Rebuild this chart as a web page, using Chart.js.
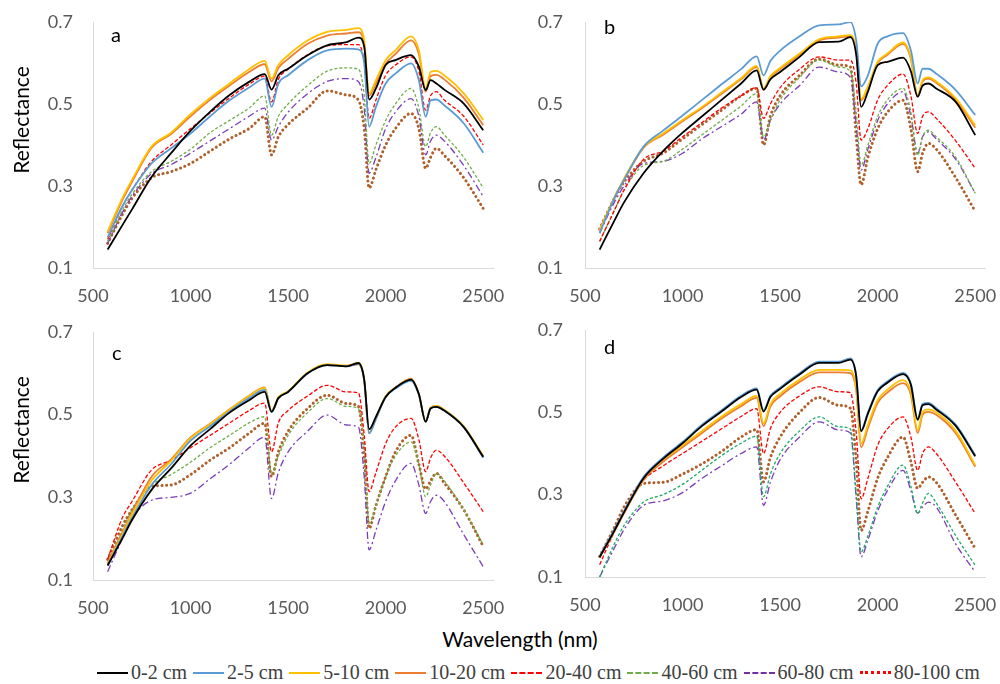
<!DOCTYPE html>
<html>
<head>
<meta charset="utf-8">
<script src="https://cdn.jsdelivr.net/npm/chart.js@4.4.1/dist/chart.umd.min.js"></script>
<style>
  body { margin: 0; width: 1000px; height: 684px; background: #fff; position: relative; overflow: hidden; font-family: Lato, sans-serif; }
  .panel { position: absolute; }
  .letter { position: absolute; font-size: 20px; color: #000; line-height: 1; }
  .ytitle { position: absolute; font-size: 21px; color: #000; white-space: nowrap; transform: translate(-50%, -50%) rotate(-90deg); }
  #xtitle { position: absolute; left: 520px; top: 638px; transform: translate(-50%, -50%); font-size: 21px; color: #000; white-space: nowrap; }
  #legend { position: absolute; left: 97px; top: 661px; display: flex; align-items: center; font-family: "Liberation Serif", serif; font-size: 20px; color: #404040; white-space: nowrap; }
  .item { display: flex; align-items: center; margin-right: 6px; }
  .swatch { width: 31px; height: 0; margin-right: 3px; }
</style>
</head>
<body>

<div class="panel" style="left:0;top:0;width:520px;height:310px"><canvas id="chartA" width="520" height="310"></canvas></div>
<div class="panel" style="left:500px;top:0;width:500px;height:310px"><canvas id="chartB" width="500" height="310"></canvas></div>
<div class="panel" style="left:0;top:310px;width:520px;height:310px"><canvas id="chartC" width="520" height="310"></canvas></div>
<div class="panel" style="left:500px;top:310px;width:500px;height:310px"><canvas id="chartD" width="500" height="310"></canvas></div>

<div class="letter" style="left:111px;top:24px">a</div>
<div class="letter" style="left:604px;top:16px">b</div>
<div class="letter" style="left:112px;top:342px">c</div>
<div class="letter" style="left:604px;top:336px">d</div>

<div class="ytitle" style="left:20px;top:120px">Reflectance</div>
<div class="ytitle" style="left:20px;top:430px">Reflectance</div>
<div id="xtitle">Wavelength (nm)</div>
<div id="legend"></div>

<script>
// wavelength (nm) of the sampled points
const wavelengths = [575, 650, 700, 800, 900, 1000, 1100, 1200, 1300, 1380, 1415, 1450, 1500, 1600, 1700, 1800, 1860, 1890, 1915, 1950, 2000, 2050, 2130, 2170, 2205, 2230, 2260, 2300, 2400, 2500];

const xTicks = [500, 1000, 1500, 2000, 2500];
const xAxisMax = 2550;
const yTicks = [0.1, 0.3, 0.5, 0.7];

const seriesLabels = ['0-2 cm', '2-5 cm', '5-10 cm', '10-20 cm', '20-40 cm', '40-60 cm', '60-80 cm', '80-100 cm'];

// panel a
const a_0_2 = [0.145,0.204,0.243,0.322,0.380,0.435,0.481,0.522,0.554,0.573,0.535,0.570,0.586,0.619,0.643,0.651,0.662,0.640,0.511,0.538,0.595,0.607,0.619,0.591,0.534,0.558,0.550,0.535,0.501,0.436];
const a_2_5 = [0.175,0.250,0.290,0.355,0.392,0.428,0.470,0.509,0.540,0.562,0.493,0.550,0.570,0.607,0.631,0.635,0.633,0.600,0.445,0.493,0.550,0.574,0.599,0.558,0.469,0.509,0.511,0.497,0.453,0.381];
const a_5_10 = [0.189,0.270,0.315,0.396,0.430,0.475,0.515,0.550,0.585,0.605,0.562,0.595,0.619,0.655,0.676,0.681,0.685,0.655,0.526,0.558,0.607,0.631,0.665,0.631,0.538,0.578,0.581,0.570,0.526,0.461];
const a_10_20 = [0.185,0.265,0.310,0.393,0.427,0.470,0.510,0.545,0.578,0.597,0.555,0.588,0.610,0.647,0.667,0.672,0.675,0.645,0.520,0.550,0.598,0.622,0.655,0.622,0.530,0.568,0.571,0.560,0.515,0.448];
const a_20_40 = [0.170,0.250,0.290,0.360,0.400,0.440,0.478,0.515,0.548,0.568,0.505,0.560,0.585,0.620,0.642,0.645,0.645,0.600,0.465,0.510,0.570,0.595,0.615,0.580,0.485,0.520,0.530,0.510,0.470,0.400];
const a_40_60 = [0.165,0.240,0.280,0.335,0.360,0.390,0.430,0.460,0.490,0.520,0.424,0.470,0.500,0.545,0.580,0.588,0.585,0.520,0.355,0.400,0.460,0.500,0.538,0.490,0.396,0.430,0.445,0.425,0.370,0.295];
const a_60_80 = [0.160,0.235,0.275,0.330,0.352,0.380,0.410,0.440,0.470,0.490,0.412,0.445,0.480,0.525,0.555,0.562,0.555,0.490,0.331,0.370,0.440,0.480,0.513,0.470,0.376,0.410,0.424,0.410,0.350,0.274];
const a_80_100 = [0.160,0.230,0.270,0.320,0.335,0.355,0.385,0.415,0.440,0.469,0.376,0.420,0.450,0.490,0.532,0.522,0.510,0.440,0.295,0.340,0.400,0.440,0.477,0.440,0.343,0.370,0.392,0.375,0.320,0.245];

// panel b
const b_0_2 = [0.145,0.215,0.260,0.331,0.385,0.430,0.470,0.510,0.550,0.582,0.535,0.560,0.578,0.615,0.651,0.652,0.663,0.620,0.493,0.530,0.595,0.603,0.613,0.580,0.518,0.545,0.550,0.538,0.505,0.424];
const b_2_5 = [0.185,0.270,0.315,0.396,0.435,0.472,0.510,0.548,0.585,0.616,0.570,0.605,0.630,0.665,0.692,0.694,0.700,0.655,0.543,0.570,0.647,0.665,0.673,0.631,0.550,0.586,0.586,0.574,0.534,0.473];
const b_5_10 = [0.192,0.272,0.318,0.395,0.428,0.461,0.493,0.528,0.563,0.593,0.538,0.568,0.588,0.623,0.658,0.665,0.668,0.633,0.512,0.543,0.603,0.623,0.650,0.613,0.521,0.558,0.565,0.555,0.514,0.448];
const b_10_20 = [0.190,0.270,0.315,0.393,0.425,0.458,0.490,0.525,0.560,0.590,0.535,0.565,0.585,0.620,0.655,0.662,0.665,0.630,0.509,0.540,0.600,0.620,0.647,0.610,0.518,0.555,0.562,0.552,0.510,0.442];
const b_20_40 = [0.165,0.240,0.290,0.365,0.385,0.420,0.455,0.490,0.520,0.540,0.465,0.500,0.540,0.585,0.615,0.607,0.607,0.550,0.412,0.440,0.510,0.545,0.573,0.520,0.428,0.470,0.481,0.465,0.410,0.343];
const b_40_60 = [0.165,0.240,0.290,0.350,0.360,0.390,0.425,0.460,0.495,0.525,0.420,0.460,0.510,0.565,0.607,0.590,0.580,0.480,0.351,0.400,0.470,0.510,0.538,0.480,0.375,0.420,0.436,0.420,0.370,0.282];
const b_60_80 = [0.185,0.260,0.300,0.355,0.360,0.380,0.415,0.445,0.475,0.505,0.412,0.460,0.500,0.545,0.590,0.578,0.565,0.450,0.339,0.390,0.460,0.500,0.530,0.470,0.380,0.420,0.432,0.415,0.365,0.282];
const b_80_100 = [0.195,0.270,0.310,0.360,0.380,0.415,0.450,0.485,0.520,0.538,0.400,0.470,0.520,0.570,0.610,0.595,0.590,0.420,0.303,0.370,0.440,0.480,0.509,0.440,0.335,0.380,0.404,0.390,0.320,0.238];

// panel c
const c_0_2 = [0.135,0.200,0.245,0.318,0.370,0.425,0.465,0.505,0.535,0.555,0.507,0.540,0.555,0.600,0.620,0.617,0.625,0.585,0.465,0.495,0.543,0.565,0.585,0.550,0.483,0.515,0.519,0.510,0.470,0.398];
const c_2_5 = [0.135,0.205,0.250,0.330,0.380,0.437,0.472,0.508,0.540,0.560,0.507,0.540,0.555,0.600,0.620,0.617,0.623,0.583,0.455,0.490,0.543,0.563,0.582,0.548,0.483,0.515,0.519,0.510,0.470,0.396];
const c_5_10 = [0.138,0.210,0.258,0.340,0.388,0.443,0.477,0.512,0.545,0.565,0.510,0.542,0.557,0.602,0.622,0.619,0.625,0.585,0.457,0.492,0.545,0.565,0.585,0.550,0.485,0.517,0.521,0.512,0.472,0.400];
const c_10_20 = [0.140,0.215,0.262,0.350,0.392,0.445,0.478,0.513,0.546,0.566,0.508,0.540,0.556,0.601,0.621,0.618,0.622,0.582,0.455,0.490,0.544,0.565,0.587,0.550,0.483,0.517,0.521,0.511,0.471,0.398];
const c_20_40 = [0.150,0.250,0.290,0.366,0.390,0.420,0.450,0.480,0.510,0.528,0.410,0.480,0.510,0.545,0.571,0.555,0.553,0.450,0.314,0.360,0.430,0.470,0.491,0.440,0.362,0.395,0.414,0.400,0.335,0.265];
const c_40_60 = [0.140,0.220,0.270,0.330,0.355,0.385,0.420,0.450,0.480,0.495,0.358,0.400,0.450,0.505,0.539,0.520,0.515,0.420,0.237,0.280,0.350,0.400,0.434,0.380,0.301,0.330,0.358,0.340,0.270,0.185];
const c_60_80 = [0.120,0.200,0.250,0.293,0.300,0.310,0.345,0.380,0.420,0.446,0.297,0.360,0.410,0.460,0.499,0.475,0.470,0.350,0.173,0.220,0.290,0.340,0.382,0.330,0.261,0.290,0.305,0.290,0.210,0.132];
const c_80_100 = [0.150,0.230,0.270,0.326,0.330,0.355,0.390,0.420,0.455,0.479,0.350,0.410,0.460,0.515,0.547,0.527,0.520,0.400,0.225,0.280,0.350,0.410,0.450,0.380,0.320,0.340,0.358,0.335,0.270,0.181];

// panel d
const d_0_2 = [0.148,0.212,0.257,0.340,0.387,0.425,0.467,0.502,0.537,0.555,0.502,0.537,0.557,0.592,0.620,0.620,0.628,0.587,0.454,0.497,0.551,0.572,0.593,0.567,0.482,0.517,0.520,0.507,0.467,0.393];
const d_2_5 = [0.150,0.215,0.260,0.343,0.390,0.428,0.470,0.505,0.540,0.558,0.505,0.540,0.560,0.595,0.623,0.623,0.631,0.590,0.457,0.500,0.554,0.575,0.596,0.570,0.485,0.520,0.523,0.510,0.470,0.396];
const d_5_10 = [0.150,0.213,0.258,0.340,0.385,0.420,0.455,0.490,0.520,0.540,0.473,0.520,0.545,0.580,0.603,0.603,0.602,0.560,0.424,0.470,0.530,0.555,0.578,0.550,0.457,0.500,0.507,0.500,0.455,0.372];
const d_10_20 = [0.148,0.210,0.255,0.336,0.380,0.415,0.450,0.485,0.515,0.535,0.466,0.514,0.539,0.574,0.597,0.597,0.595,0.553,0.415,0.462,0.523,0.548,0.571,0.543,0.450,0.494,0.501,0.494,0.449,0.368];
const d_20_40 = [0.130,0.210,0.260,0.335,0.370,0.400,0.430,0.460,0.490,0.509,0.400,0.460,0.500,0.540,0.562,0.550,0.548,0.450,0.290,0.340,0.420,0.460,0.489,0.440,0.359,0.400,0.416,0.400,0.330,0.254];
const d_40_60 = [0.100,0.180,0.225,0.282,0.300,0.325,0.360,0.395,0.425,0.442,0.295,0.350,0.400,0.455,0.489,0.465,0.460,0.300,0.161,0.200,0.270,0.320,0.372,0.320,0.254,0.280,0.303,0.280,0.200,0.128];
const d_60_80 = [0.100,0.170,0.215,0.274,0.285,0.305,0.340,0.370,0.400,0.416,0.274,0.330,0.385,0.440,0.477,0.457,0.450,0.290,0.149,0.190,0.260,0.310,0.359,0.310,0.255,0.270,0.282,0.270,0.180,0.112];
const d_80_100 = [0.150,0.220,0.270,0.327,0.330,0.350,0.375,0.405,0.440,0.458,0.331,0.390,0.440,0.500,0.536,0.517,0.510,0.380,0.213,0.260,0.340,0.390,0.440,0.380,0.315,0.330,0.343,0.330,0.250,0.169];

// line styles, one per depth
const lineColors = ['#000000', '#5B9BD5', '#FFC000', '#ED7D31', '#FF0000', '#70AD47', '#7A3DB8', '#B0602A'];
const lineDashes = [[], [], [], [], [4, 2], [3, 2], [7, 3, 2, 3], [0.1, 4.5]];
const lineWidths = [1.8, 1.8, 1.8, 1.8, 1.3, 1.3, 1.3, 3];
const legendColors = ['#000000', '#5B9BD5', '#FFC000', '#ED7D31', '#FF0000', '#70AD47', '#7030A0', '#FF0000'];
const legendStyles = ['solid', 'solid', 'solid', 'solid', 'dashed', 'dashed', 'dashed', 'dotted'];

const tickFont = { family: 'Lato', size: 18 };

const makePanel = (canvasId, seriesList, box) => {
  const datasets = seriesList.map((vals, i) => ({
    label: seriesLabels[i],
    data: wavelengths.map((w, j) => ({ x: w, y: vals[j] })),
    borderColor: (i === 5 && box.green) ? box.green : lineColors[i],
    borderWidth: lineWidths[i],
    borderDash: lineDashes[i],
    borderCapStyle: i === 7 ? 'round' : 'butt',
    pointRadius: 0,
    fill: false,
    cubicInterpolationMode: 'monotone'
  }));

  new Chart(document.getElementById(canvasId), {
    type: 'line',
    data: { datasets: datasets },
    options: {
      responsive: false,
      animation: false,
      layout: { padding: { top: box.top, right: box.right, left: 0, bottom: 0 } },
      plugins: { legend: { display: false }, tooltip: { enabled: false } },
      scales: {
        x: {
          type: 'linear',
          min: xTicks[0],
          max: xAxisMax,
          afterBuildTicks: (scale) => { scale.ticks = xTicks.map(v => ({ value: v })); },
          grid: { display: false, drawTicks: false },
          border: { display: true, color: '#d9d9d9', width: 1 },
          ticks: { color: '#595959', font: tickFont, padding: 17, maxRotation: 0, callback: (v) => String(v) },
          afterFit: (scale) => {
            scale.height = box.xHeight;
            scale.paddingLeft = 0;
            scale.paddingRight = 0;
          }
        },
        y: {
          min: yTicks[0],
          max: yTicks[yTicks.length - 1],
          afterBuildTicks: (scale) => { scale.ticks = yTicks.map(v => ({ value: v })); },
          grid: { display: false, drawTicks: false },
          border: { display: true, color: '#d9d9d9', width: 1 },
          ticks: { color: '#595959', font: tickFont, padding: box.yPad, callback: (v) => v.toFixed(1) },
          afterFit: (scale) => {
            scale.width = box.yWidth;
            scale.paddingTop = 0;
            scale.paddingBottom = 0;
          }
        }
      }
    }
  });
};

makePanel('chartA', [a_0_2, a_2_5, a_5_10, a_10_20, a_20_40, a_40_60, a_60_80, a_80_100],
  { top: 22, right: 27, xHeight: 42, yWidth: 93, yPad: 20 });
makePanel('chartB', [b_0_2, b_2_5, b_5_10, b_10_20, b_20_40, b_40_60, b_60_80, b_80_100],
  { top: 22, right: 15, xHeight: 42, yWidth: 85, yPad: 22 });
makePanel('chartC', [c_0_2, c_2_5, c_5_10, c_10_20, c_20_40, c_40_60, c_60_80, c_80_100],
  { top: 22, right: 27, xHeight: 40, yWidth: 93, yPad: 20 });
makePanel('chartD', [d_0_2, d_2_5, d_5_10, d_10_20, d_20_40, d_40_60, d_60_80, d_80_100],
  { top: 20, right: 15, xHeight: 43, yWidth: 85, yPad: 22, green: '#1FAA6A' });

// shared legend under the panels
const legend = document.getElementById('legend');
seriesLabels.forEach((name, i) => {
  const item = document.createElement('div');
  item.className = 'item';
  const sw = document.createElement('span');
  sw.className = 'swatch';
  sw.style.borderTop = (i === 7 ? 3 : 2) + 'px ' + legendStyles[i] + ' ' + legendColors[i];
  const txt = document.createElement('span');
  txt.textContent = name;
  item.appendChild(sw);
  item.appendChild(txt);
  legend.appendChild(item);
});
</script>
</body>
</html>
